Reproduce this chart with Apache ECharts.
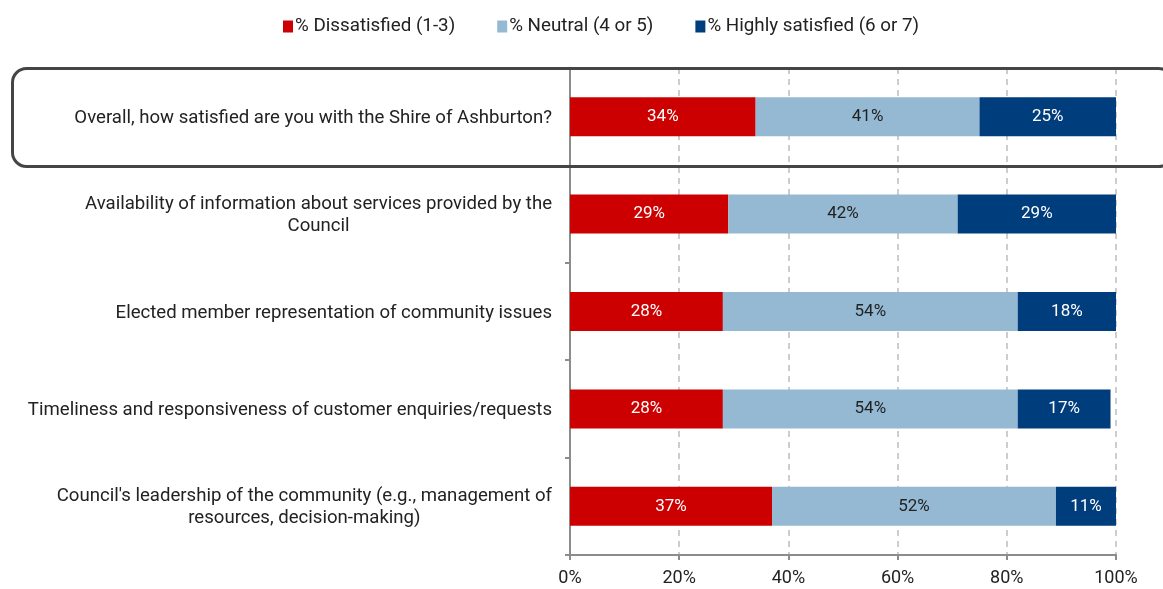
<!DOCTYPE html>
<html>
<head>
<meta charset="utf-8">
<script src="https://cdn.jsdelivr.net/npm/echarts@6/dist/echarts.min.js"></script>
<style>
  html, body { margin: 0; padding: 0; background: #ffffff; }
  #chart { width: 1163px; height: 589px; }
</style>
</head>
<body>
<div id="chart"></div>
<script>
// Survey items, top to bottom
var categories = [
  "Overall, how satisfied are you with the Shire of Ashburton?",
  "Availability of information about services provided by the\nCouncil",
  "Elected member representation of community issues",
  "Timeliness and responsiveness of customer enquiries/requests",
  "Council's leadership of the community (e.g., management of\nresources, decision-making)"
];

// Share of respondents per rating band (%)
var dissatisfied = [34, 29, 28, 28, 37];
var neutral = [41, 42, 54, 54, 52];
var highlySatisfied = [25, 29, 18, 17, 11];

var seriesNames = ["% Dissatisfied (1-3)", "% Neutral (4 or 5)", "% Highly satisfied (6 or 7)"];
var valueTicks = [0, 20, 40, 60, 80, 100];

var FONT = "Roboto, 'Liberation Sans', Arial, sans-serif";
var colors = ["#CC0000", "#95B9D2", "#003D7C"];
var labelColors = ["#ffffff", "#222222", "#ffffff"];

// the category axis is drawn top-down
var cats = categories.slice().reverse();
function rev(a) { return a.slice().reverse(); }

function makeSeries(name, data, i) {
  return {
    name: name,
    type: "bar",
    stack: "total",
    barWidth: 39,
    data: rev(data),
    itemStyle: { color: colors[i] },
    label: {
      show: true,
      position: "inside",
      formatter: "{c}%",
      color: labelColors[i],
      fontFamily: FONT,
      fontSize: 17
    },
    emphasis: { disabled: true }
  };
}

var chart = echarts.init(document.getElementById("chart"), null, { renderer: "canvas" });

chart.setOption({
  animation: false,
  textStyle: { fontFamily: FONT },
  legend: {
    top: 12,
    left: 278,
    itemWidth: 10,
    itemHeight: 12,
    itemGap: 42,
    icon: "rect",
    textStyle: { fontFamily: FONT, fontSize: 18.8, color: "#222222", padding: [0, 0, 0, -3] },
    data: seriesNames
  },
  grid: { left: 570, right: 47, top: 68, bottom: 34, containLabel: false },
  xAxis: {
    type: "value",
    min: valueTicks[0],
    max: valueTicks[valueTicks.length - 1],
    interval: 20,
    axisLine: { show: true, lineStyle: { color: "#8c8c8c", width: 2 } },
    axisTick: { show: true, length: 5, lineStyle: { color: "#8c8c8c", width: 2 } },
    axisLabel: {
      formatter: "{value}%",
      fontFamily: FONT,
      fontSize: 18,
      color: "#222222",
      margin: 14
    },
    splitLine: { show: true, lineStyle: { color: "#bdbdbd", type: [6, 5], width: 1.5 } }
  },
  yAxis: {
    type: "category",
    data: cats,
    axisLine: { show: true, lineStyle: { color: "#8c8c8c", width: 2 } },
    axisTick: { show: true, length: 5, inside: false, lineStyle: { color: "#8c8c8c", width: 2 } },
    axisLabel: {
      margin: 18,
      fontFamily: FONT,
      fontSize: 18.6,
      color: "#222222",
      formatter: function (v) {
        return v.split("\n").map(function (s) { return "{c|" + s + "}"; }).join("\n");
      },
      rich: { c: { align: "center", fontFamily: FONT, fontSize: 18.6, color: "#222222", lineHeight: 22, padding: [3, 0, 0, 0] } }
    },
    splitLine: { show: false }
  },
  series: [
    makeSeries(seriesNames[0], dissatisfied, 0),
    makeSeries(seriesNames[1], neutral, 1),
    makeSeries(seriesNames[2], highlySatisfied, 2)
  ],
  graphic: [{
    type: "rect",
    left: 10,
    top: 66,
    shape: { width: 1160, height: 98, r: 14 },
    style: { fill: "none", stroke: "#454545", lineWidth: 3 },
    z: 100,
    silent: true
  }]
});
</script>
</body>
</html>
